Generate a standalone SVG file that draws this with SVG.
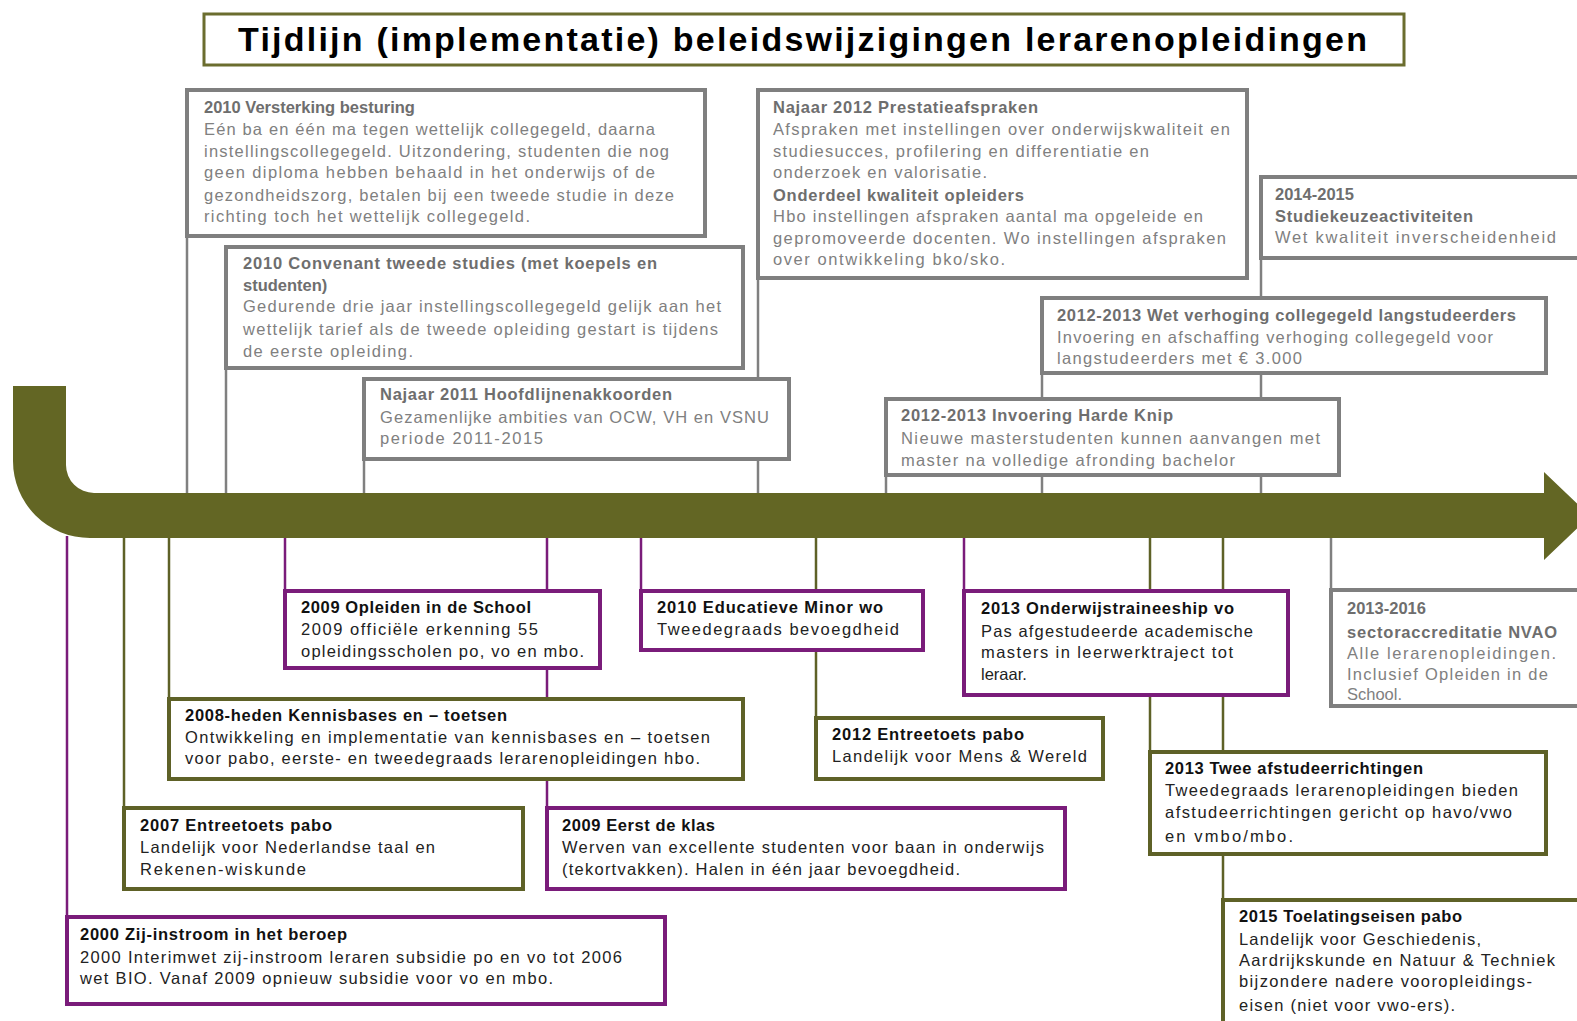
<svg xmlns="http://www.w3.org/2000/svg" width="1577" height="1021" viewBox="0 0 1577 1021">
<style>
text{font-family:"Liberation Sans",Arial,sans-serif;font-size:16.5px}
.gt{font-weight:bold;fill:#6e6e6e}
.gb{fill:#808080}
.kt{font-weight:bold;fill:#111}
.kb{fill:#222}
.gbox{fill:#fff;stroke:#7f7f7f;stroke-width:4}
.obox{fill:#fff;stroke:#5e6127;stroke-width:4}
.pbox{fill:#fff;stroke:#7a1c7a;stroke-width:4}
.gl{stroke:#808080;stroke-width:2.5;fill:none}
.ol{stroke:#5e6127;stroke-width:2.5;fill:none}
.pl{stroke:#7a1c7a;stroke-width:2.5;fill:none}
</style>
<rect x="0" y="0" width="1577" height="1021" fill="#ffffff"/>

<g id="title">
<rect x="204" y="14" width="1200" height="51" fill="#fff" stroke="#6b6d2e" stroke-width="3"/>
<text x="238" y="51" textLength="1129" style="font-size:34px;font-weight:bold;fill:#000">Tijdlijn (implementatie) beleidswijzigingen lerarenopleidingen</text>
</g>

<g id="connectors">
<line class="gl" x1="187" y1="236" x2="187" y2="495"/>
<line class="gl" x1="226" y1="368" x2="226" y2="495"/>
<line class="gl" x1="364" y1="459" x2="364" y2="495"/>
<line class="gl" x1="758" y1="278" x2="758" y2="495"/>
<line class="gl" x1="886" y1="475" x2="886" y2="495"/>
<line class="gl" x1="1042" y1="373" x2="1042" y2="495"/>
<line class="gl" x1="1261" y1="258" x2="1261" y2="495"/>
<line class="pl" x1="67" y1="536" x2="67" y2="917"/>
<line class="ol" x1="124" y1="536" x2="124" y2="808"/>
<line class="ol" x1="169" y1="536" x2="169" y2="699"/>
<line class="pl" x1="285" y1="536" x2="285" y2="591"/>
<line class="pl" x1="547" y1="536" x2="547" y2="808"/>
<line class="pl" x1="641" y1="536" x2="641" y2="591"/>
<line class="ol" x1="816" y1="536" x2="816" y2="718"/>
<line class="pl" x1="964" y1="536" x2="964" y2="591"/>
<line class="ol" x1="1150" y1="536" x2="1150" y2="752"/>
<line class="ol" x1="1223" y1="536" x2="1223" y2="900"/>
<line class="gl" x1="1331" y1="536" x2="1331" y2="590"/>
</g>

<g id="timeline">
<path d="M13,386 L66,386 L66,465 A28,28 0 0 0 94,493 L1544,493 L1544,472 L1590,516 L1544,560 L1544,538 L90,538 A77,77 0 0 1 13,461 Z" fill="#636624"/>
</g>

<g id="n2010-versterking">
<rect class="gbox" x="187" y="90" width="518" height="146"/>
<text class="gt" x="204" y="113">2010 Versterking besturing</text>
<text class="gb" x="204" y="135" textLength="451">Eén ba en één ma tegen wettelijk collegegeld, daarna</text>
<text class="gb" x="204" y="157" textLength="465">instellingscollegegeld. Uitzondering, studenten die nog</text>
<text class="gb" x="204" y="178" textLength="451">geen diploma hebben  behaald in het onderwijs of de</text>
<text class="gb" x="204" y="201" textLength="470">gezondheidszorg, betalen bij een tweede studie in deze</text>
<text class="gb" x="204" y="222" textLength="326">richting toch het wettelijk collegegeld.</text>
</g>

<g id="n2010-convenant">
<rect class="gbox" x="226" y="247" width="517" height="121"/>
<text class="gt" x="243" y="269" textLength="414">2010 Convenant tweede studies (met koepels en</text>
<text class="gt" x="243" y="291">studenten)</text>
<text class="gb" x="243" y="312" textLength="478">Gedurende drie jaar  instellingscollegegeld gelijk aan het</text>
<text class="gb" x="243" y="335" textLength="475">wettelijk tarief als de tweede opleiding gestart is tijdens</text>
<text class="gb" x="243" y="357" textLength="170">de eerste opleiding.</text>
</g>

<g id="n2011-hoofdlijnen">
<rect class="gbox" x="364" y="379" width="425" height="80"/>
<text class="gt" x="380" y="400" textLength="292">Najaar 2011 Hoofdlijnenakkoorden</text>
<text class="gb" x="380" y="423" textLength="389">Gezamenlijke ambities van OCW, VH en VSNU</text>
<text class="gb" x="380" y="444" textLength="163">periode 2011-2015</text>
</g>

<g id="n2012-prestatie">
<rect class="gbox" x="758" y="90" width="489" height="188"/>
<text class="gt" x="773" y="113" textLength="265">Najaar 2012 Prestatieafspraken</text>
<text class="gb" x="773" y="135" textLength="457">Afspraken met instellingen over onderwijskwaliteit en</text>
<text class="gb" x="773" y="157" textLength="376">studiesucces, profilering en differentiatie en</text>
<text class="gb" x="773" y="178" textLength="214">onderzoek en valorisatie.</text>
<text class="gt" x="773" y="201" textLength="251">Onderdeel  kwaliteit opleiders</text>
<text class="gb" x="773" y="222" textLength="430">Hbo instellingen afspraken aantal ma opgeleide en</text>
<text class="gb" x="773" y="244" textLength="453">gepromoveerde docenten. Wo instellingen afspraken</text>
<text class="gb" x="773" y="265" textLength="232">over ontwikkeling bko/sko.</text>
</g>

<g id="n2014-studiekeuze">
<rect class="gbox" x="1261" y="177" width="330" height="81"/>
<text class="gt" x="1275" y="200">2014-2015</text>
<text class="gt" x="1275" y="222" textLength="198">Studiekeuzeactiviteiten</text>
<text class="gb" x="1275" y="243" textLength="281">Wet kwaliteit inverscheidenheid</text>
</g>

<g id="n2012-langstudeerders">
<rect class="gbox" x="1042" y="298" width="504" height="75"/>
<text class="gt" x="1057" y="321" textLength="459">2012-2013 Wet verhoging collegegeld langstudeerders</text>
<text class="gb" x="1057" y="343" textLength="436">Invoering en afschaffing verhoging collegegeld voor</text>
<text class="gb" x="1057" y="364" textLength="245">langstudeerders met € 3.000</text>
</g>

<g id="n2012-hardeknip">
<rect class="gbox" x="886" y="399" width="453" height="76"/>
<text class="gt" x="901" y="421" textLength="272">2012-2013 Invoering Harde Knip</text>
<text class="gb" x="901" y="444" textLength="419">Nieuwe masterstudenten kunnen aanvangen met</text>
<text class="gb" x="901" y="466" textLength="334">master na volledige afronding bachelor</text>
</g>

<g id="n2009-opleiden">
<rect class="pbox" x="285" y="591" width="315" height="77"/>
<text class="kt" x="301" y="613" textLength="230">2009 Opleiden in de School</text>
<text class="kb" x="301" y="635" textLength="237">2009 officiële erkenning 55</text>
<text class="kb" x="301" y="657" textLength="283">opleidingsscholen po, vo en mbo.</text>
</g>

<g id="n2010-minor">
<rect class="pbox" x="641" y="591" width="282" height="59"/>
<text class="kt" x="657" y="613" textLength="226">2010 Educatieve Minor  wo</text>
<text class="kb" x="657" y="635" textLength="242">Tweedegraads bevoegdheid</text>
</g>

<g id="n2013-traineeship">
<rect class="pbox" x="964" y="591" width="324" height="104"/>
<text class="kt" x="981" y="614" textLength="253">2013 Onderwijstraineeship  vo</text>
<text class="kb" x="981" y="637" textLength="272">Pas afgestudeerde academische</text>
<text class="kb" x="981" y="658" textLength="252">masters in leerwerktraject tot</text>
<text class="kb" x="981" y="680">leraar.</text>
</g>

<g id="n2013-sectoraccreditatie">
<rect class="gbox" x="1331" y="590" width="260" height="116"/>
<text class="gt" x="1347" y="614">2013-2016</text>
<text class="gt" x="1347" y="638" textLength="210">sectoraccreditatie  NVAO</text>
<text class="gb" x="1347" y="659" textLength="209">Alle lerarenopleidingen.</text>
<text class="gb" x="1347" y="680" textLength="201">Inclusief Opleiden in de</text>
<text class="gb" x="1347" y="700">School.</text>
</g>

<g id="n2008-kennisbases">
<rect class="obox" x="169" y="699" width="574" height="80"/>
<text class="kt" x="185" y="721" textLength="322">2008-heden Kennisbases en  – toetsen</text>
<text class="kb" x="185" y="743" textLength="525">Ontwikkeling en implementatie van  kennisbases en – toetsen</text>
<text class="kb" x="185" y="764" textLength="515">voor pabo, eerste- en tweedegraads lerarenopleidingen hbo.</text>
</g>

<g id="n2012-entreetoets">
<rect class="obox" x="816" y="718" width="287" height="61"/>
<text class="kt" x="832" y="740" textLength="192">2012 Entreetoets  pabo</text>
<text class="kb" x="832" y="762" textLength="255">Landelijk voor Mens &amp; Wereld</text>
</g>

<g id="n2013-afstudeerrichtingen">
<rect class="obox" x="1150" y="752" width="396" height="102"/>
<text class="kt" x="1165" y="774" textLength="258">2013 Twee afstudeerrichtingen</text>
<text class="kb" x="1165" y="796" textLength="353">Tweedegraads lerarenopleidingen bieden</text>
<text class="kb" x="1165" y="818" textLength="347">afstudeerrichtingen gericht op havo/vwo</text>
<text class="kb" x="1165" y="842" textLength="128">en vmbo/mbo.</text>
</g>

<g id="n2007-entreetoets">
<rect class="obox" x="124" y="808" width="399" height="81"/>
<text class="kt" x="140" y="831" textLength="192">2007 Entreetoets  pabo</text>
<text class="kb" x="140" y="853" textLength="295">Landelijk voor Nederlandse taal en</text>
<text class="kb" x="140" y="875" textLength="166">Rekenen-wiskunde</text>
</g>

<g id="n2009-eerstdeklas">
<rect class="pbox" x="547" y="808" width="518" height="81"/>
<text class="kt" x="562" y="831" textLength="153">2009 Eerst de klas</text>
<text class="kb" x="562" y="853" textLength="482">Werven van excellente studenten voor baan in onderwijs</text>
<text class="kb" x="562" y="875" textLength="398">(tekortvakken). Halen in één jaar bevoegdheid.</text>
</g>

<g id="n2000-zijinstroom">
<rect class="pbox" x="67" y="917" width="598" height="87"/>
<text class="kt" x="80" y="940" textLength="267">2000 Zij-instroom in het beroep</text>
<text class="kb" x="80" y="963" textLength="542">2000 Interimwet zij-instroom leraren  subsidie po en vo tot 2006</text>
<text class="kb" x="80" y="984" textLength="473">wet BIO. Vanaf 2009 opnieuw  subsidie voor vo en mbo.</text>
</g>

<g id="n2015-toelatingseisen">
<rect class="obox" x="1223" y="900" width="370" height="140"/>
<text class="kt" x="1239" y="922" textLength="223">2015 Toelatingseisen pabo</text>
<text class="kb" x="1239" y="945" textLength="242">Landelijk voor Geschiedenis,</text>
<text class="kb" x="1239" y="966" textLength="316">Aardrijkskunde en Natuur &amp; Techniek</text>
<text class="kb" x="1239" y="987" textLength="293">bijzondere nadere vooropleidings-</text>
<text class="kb" x="1239" y="1011" textLength="216">eisen (niet voor vwo-ers).</text>
</g>
</svg>
